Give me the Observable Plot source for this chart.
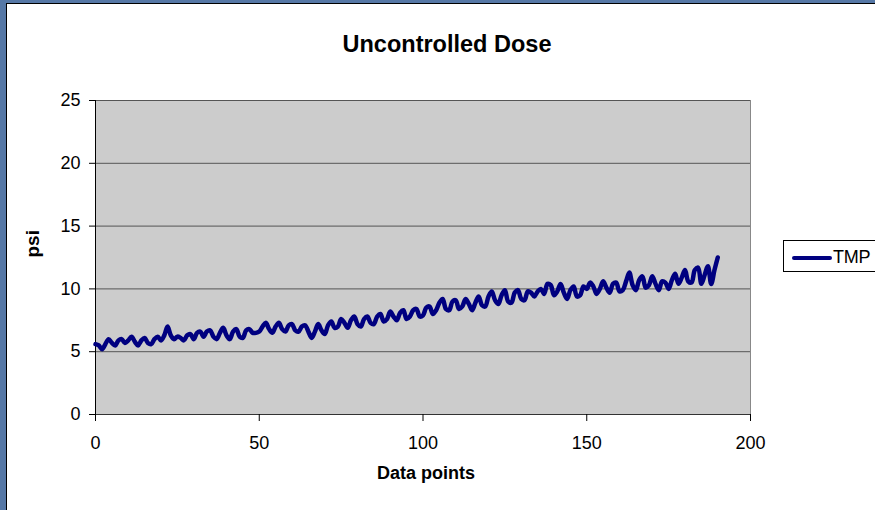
<!DOCTYPE html>
<html>
<head>
<meta charset="utf-8">
<script src="https://cdn.jsdelivr.net/npm/d3@7"></script>
<script src="https://cdn.jsdelivr.net/npm/@observablehq/plot@0.6"></script>
<style>
  html, body { margin: 0; padding: 0; width: 875px; height: 510px; overflow: hidden; }
  body { background: #5678a6; position: relative; font-family: "Liberation Sans", Arial, sans-serif; }
  #page { position: absolute; left: 6px; top: 3px; right: 0; bottom: 0; background: #fff; border-left: 1px solid #000; border-top: 1px solid #000; }
  #chart { position: absolute; left: 0; top: 0; }
  #legend { position: absolute; left: 783px; top: 240px; width: 110px; height: 30px; border: 1px solid #000; background: #fff; }
  #legend .swatch { position: absolute; left: 8px; top: 15px; width: 40px; height: 4px; background: #000080; border-radius: 2px; }
  #legend .lbl { position: absolute; left: 49px; top: 5px; font-size: 18px; line-height: 22px; color: #000; letter-spacing: -0.3px; }
</style>
</head>
<body>
<div id="page"></div>
<div id="chart"></div>
<div id="legend"><div class="swatch"></div><div class="lbl">TMP</div></div>
<script>
const title = "Uncontrolled Dose";
const xLabel = "Data points";
const yLabel = "psi";
const seriesName = "TMP";
const xTicks = [0, 50, 100, 150, 200];
const yTicks = [0, 5, 10, 15, 20, 25];
const tmp = [
  5.6, 5.5, 5.2, 5.6, 6.0, 5.7, 5.5, 5.9, 6.0, 5.7,
  5.9, 6.2, 5.8, 5.5, 5.9, 6.1, 5.7, 5.6, 6.0, 6.2,
  5.9, 6.3, 7.0, 6.3, 6.0, 6.2, 6.1, 5.9, 6.3, 6.4,
  6.0, 6.5, 6.6, 6.2, 6.6, 6.7, 6.2, 6.0, 6.5, 6.9,
  6.3, 6.0, 6.6, 6.8, 6.2, 6.1, 6.7, 6.8, 6.5, 6.5,
  6.6, 7.0, 7.3, 6.8, 6.5, 7.0, 7.3, 6.8, 6.6, 7.1,
  7.2, 6.7, 6.6, 7.0, 7.1, 6.6, 6.1, 6.6, 7.2, 6.7,
  6.4, 7.1, 7.4, 6.9, 7.0, 7.6, 7.3, 6.9, 7.5, 7.8,
  7.2, 7.0, 7.6, 7.8, 7.3, 7.2, 7.8, 8.0, 7.4, 7.6,
  8.2, 7.8, 7.5, 8.1, 8.3, 7.6, 7.8, 8.3, 8.4, 7.8,
  7.9, 8.5, 8.6, 8.0, 8.3, 8.9, 9.2, 8.4, 8.3, 9.0,
  9.1, 8.4, 8.6, 9.2, 8.8, 8.3, 8.9, 9.4, 8.7, 8.6,
  9.4, 9.8, 9.1, 8.8, 9.5, 9.9, 9.0, 8.9, 9.7, 9.9,
  9.2, 9.1, 9.8, 9.7, 9.4, 9.8, 10.0, 9.6, 10.4, 10.3,
  9.5, 9.8, 10.4, 9.7, 9.2, 9.9, 10.2, 9.4, 9.5, 10.2,
  10.0, 10.5, 10.2, 9.6, 10.0, 10.6, 10.1, 9.7, 10.4, 10.5,
  9.8, 9.9, 10.6, 11.3, 10.3, 9.9, 10.7, 11.0, 10.1, 10.3,
  11.0, 10.4, 9.9, 10.6, 10.5, 10.0, 10.7, 11.2, 10.4, 10.9,
  11.5, 10.6, 10.5, 11.5, 11.7, 10.4, 11.1, 11.8, 10.4, 11.5,
  12.5
];
const data = tmp.map((v, i) => ({x: i, y: v}));

document.querySelector("#legend .lbl").textContent = seriesName;

const chart = Plot.plot({
  width: 875,
  height: 510,
  marginLeft: 95,
  marginRight: 125,
  marginTop: 100,
  marginBottom: 96,
  style: {background: "transparent", fontFamily: "'Liberation Sans', Arial, sans-serif", fontSize: "18px", color: "#000"},
  x: {domain: [0, 200], label: null},
  y: {domain: [0, 25], label: null},
  marks: [
    Plot.frame({fill: "#cccccc", stroke: "#888888"}),
    Plot.ruleY(yTicks.filter(d => d > 0), {stroke: "#555555", strokeWidth: 1}),
    Plot.ruleX([0], {stroke: "#000"}),
    Plot.ruleY([0], {stroke: "#333"}),
    Plot.axisY({ticks: yTicks, tickSize: 6, tickPadding: 9, fontSize: 18, stroke: "#000"}),
    Plot.axisX({ticks: xTicks, tickSize: 7, tickPadding: 15, fontSize: 18, stroke: "#000"}),
    Plot.line(data, {x: "x", y: "y", stroke: "#000080", strokeWidth: 4.5, curve: "catmull-rom", strokeLinejoin: "round", strokeLinecap: "round"}),
    Plot.text([title], {frameAnchor: "top", dx: 24, dy: -65, fontSize: 23.5, fontWeight: "bold", fill: "#000"}),
    Plot.text([xLabel], {frameAnchor: "bottom", dx: 3, dy: 64, fontSize: 18, fontWeight: "bold", fill: "#000", letterSpacing: 0.8}),
    Plot.text([yLabel], {frameAnchor: "left", dx: -63, rotate: -90, fontSize: 19, fontWeight: "bold", fill: "#000"})
  ]
});
document.getElementById("chart").appendChild(chart);
</script>
</body>
</html>
